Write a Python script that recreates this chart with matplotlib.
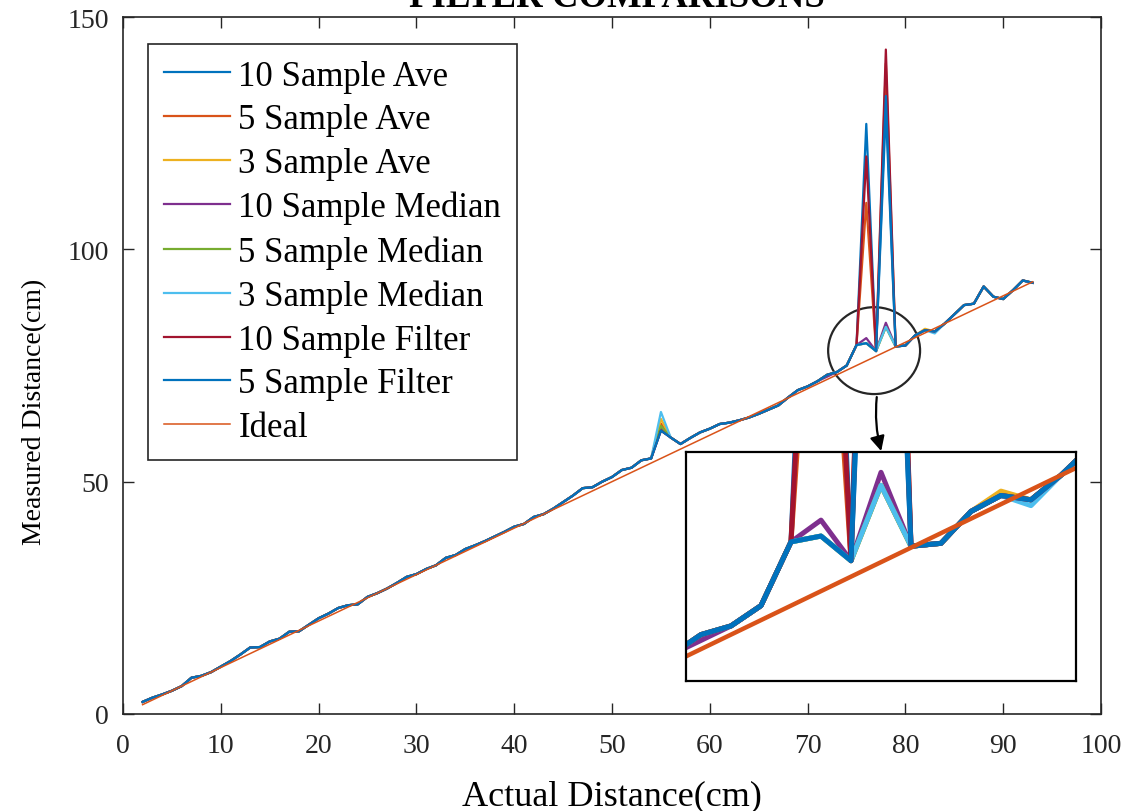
import matplotlib.pyplot as plt
from matplotlib.patches import Ellipse

plt.rcParams['font.family'] = ['Liberation Serif', 'DejaVu Serif']

# actual distance (cm) for each sample
actual = list(range(2, 94))

# common measured curve (cm), shared by every filter except where noted
measured = [2.6, 3.5, 4.2, 5.0, 6.0, 7.8, 8.2, 9.0, 10.2, 11.4,
            12.8, 14.3, 14.4, 15.6, 16.2, 17.7, 17.8, 19.2, 20.6, 21.6,
            22.8, 23.4, 23.6, 25.2, 26.0, 27.0, 28.2, 29.5, 30.1, 31.2,
            32.0, 33.6, 34.2, 35.5, 36.3, 37.2, 38.2, 39.2, 40.3, 40.9,
            42.4, 43.0, 44.2, 45.6, 47.0, 48.6, 48.8, 50.0, 51.0, 52.5,
            53.0, 54.6, 55.0, 61.0, 59.5, 58.1, 59.4, 60.6, 61.4, 62.4,
            62.7, 63.2, 63.8, 64.6, 65.5, 66.4, 68.1, 69.7, 70.5, 71.6,
            73.0, 73.6, 75.0, 79.4, 79.8, 78.1, 83.3, 79.1, 79.3, 81.5,
            82.6, 82.3, 84.0, 86.0, 88.0, 88.3, 92.0, 89.8, 89.3, 91.2,
            93.3, 92.8]

# readings where a filter departs from the common curve {actual: measured}
ave10 = {55: 61.0, 76: 127.0, 78: 130.0}
ave5 = {55: 62.5, 76: 110.0, 78: 140.0}
ave3 = {55: 63.5, 82: 82.9}
med10 = {55: 61.5, 72: 72.6, 76: 80.9, 78: 84.2}
med5 = {55: 62.0}
med3 = {55: 65.0, 83: 81.9}
filt10 = {55: 61.0, 76: 120.0, 78: 143.0}
filt5 = {55: 61.0, 78: 133.0}

labels = ['10 Sample Ave', '5 Sample Ave', '3 Sample Ave',
          '10 Sample Median', '5 Sample Median', '3 Sample Median',
          '10 Sample Filter', '5 Sample Filter']
changes = [ave10, ave5, ave3, med10, med5, med3, filt10, filt5]
colors = ['#0072BD', '#D95319', '#EDB120', '#7E2F8E', '#77AC30',
          '#4DBEEE', '#A2142F', '#0072BD']


def series(diff):
    return [diff.get(a, m) for a, m in zip(actual, measured)]


fig = plt.figure(figsize=(11.34, 8.12), dpi=100)
ax = fig.add_axes([0.1085, 0.1195, 0.8624, 0.8583])

for lab, d, c in zip(labels, changes, colors):
    ax.plot(actual, series(d), color=c, lw=1.6, label=lab)
ax.plot(actual, actual, color='#D95319', lw=1.1, label='Ideal')

ax.set_xlim(0, 100)
ax.set_ylim(0, 150)
ax.set_xticks(range(0, 101, 10))
ax.set_yticks([0, 50, 100, 150])
ax.tick_params(direction='in', top=True, right=True, length=8,
               width=1, labelsize=20, colors='#262626')
ax.tick_params(axis='x', pad=14)
ax.tick_params(axis='y', pad=10)
for s in ax.spines.values():
    s.set_color('#262626')
    s.set_linewidth(1.2)
ax.set_xlabel('Actual Distance(cm)', fontsize=26, labelpad=15)
ax.set_ylabel('Measured Distance(cm)', fontsize=20)
ax.yaxis.set_label_coords(-0.078, 0.435)
fig.text(0.544, 0.991, 'FILTER COMPARISONS', fontsize=26.5,
         fontweight='bold', ha='center', va='baseline')

leg = ax.legend(loc='upper left', bbox_to_anchor=(148 / 1134, 1 - 45 / 812),
                bbox_transform=fig.transFigure, borderaxespad=0,
                fontsize=25, handlelength=1.9, labelspacing=0.31,
                fancybox=False, framealpha=1, borderpad=0.45,
                handletextpad=0.25)
leg.get_frame().set_edgecolor('#262626')
leg.get_frame().set_linewidth(1.2)

# circle around the spikes and arrow down to the zoomed view
ax.add_patch(Ellipse((76.8, 78.2), 9.4, 18.7, fill=False,
                     edgecolor='#262626', lw=1.6))
ax.annotate('', xy=(77.6, 56.0), xytext=(77.1, 68.8),
            arrowprops=dict(arrowstyle='-|>', color='black', lw=1.6,
                            mutation_scale=22,
                            connectionstyle='arc3,rad=0.1'))

ins = fig.add_axes([686 / 1134, 1 - 682 / 812, 390 / 1134, 229 / 812])
for d, c in zip(changes, colors):
    ins.plot(actual, series(d), color=c, lw=3.6)
ins.plot(actual, actual, color='#D95319', lw=3.2)
ins.set_xlim(71.5, 84.5)
ins.set_ylim(69.8, 85.6)
ins.set_xticks([])
ins.set_yticks([])
for s in ins.spines.values():
    s.set_color('black')
    s.set_linewidth(1.6)

fig.savefig('out.png', dpi=100)
